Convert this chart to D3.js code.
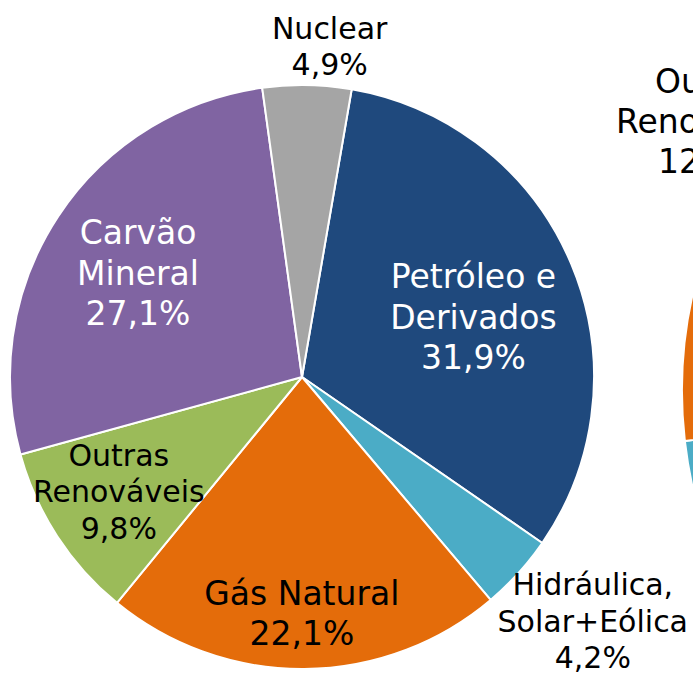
<!DOCTYPE html>
<html>
<head>
<meta charset="utf-8">
<script src="https://cdn.jsdelivr.net/npm/d3@7"></script>
<style>
  body { margin: 0; background: #fff; }
  svg { display: block; }
  .sliceLabel { font-family: "DejaVu Sans", Verdana, sans-serif; text-anchor: middle; }
</style>
</head>
<body>
<div id="chart"></div>
<script>
// categorias (mesma ordem nas duas pizzas, sentido horario)
var categories = ["Petróleo e Derivados", "Hidráulica, Solar+Eólica", "Gás Natural", "Outras Renováveis", "Carvão Mineral", "Nuclear"];
// participação (%) - pizza da esquerda
var leftShares = [31.9, 4.2, 22.1, 9.8, 27.1, 4.9];
// pizza da direita, so aparece a borda no quadro
var rightShares = [45.6, 15.2, 7.4, 12.6, 16.4, 2.8];
// rotulos quebrados em linhas
var leftLabels = [["Petróleo e", "Derivados"], ["Hidráulica,", "Solar+Eólica"], ["Gás Natural"], ["Outras", "Renováveis"], ["Carvão", "Mineral"], ["Nuclear"]];
var rightLabels = [null, null, null, ["Outras", "Renováveis"], null, null];

// estilos
var colors = ["#1f497d", "#4bacc6", "#e46c0a", "#9bbb59", "#8064a2", "#a5a5a5"];
var textColors = ["#ffffff", "#000000", "#000000", "#000000", "#ffffff", "#000000"];

// posicao dos rotulos: [fracao do raio, desvio do angulo (graus), tamanho da fonte]
var leftLabelPos = [[0.622, 3.5, 33], [1.30, -2.2, 30], [0.81, 0.5, 33], [0.74, 1, 30], [0.665, -1, 33], [1.136, 3.8, 30]];
var rightLabelPos = [null, null, null, [1.118, -9.6, 33], null, null];

var svgWidth = 693;
var svgHeight = 673;

var svg = d3.select("#chart").append("svg")
  .attr("width", svgWidth)
  .attr("height", svgHeight);

var fmtPct = d3.formatLocale({ decimal: ",", thousands: ".", grouping: [3], currency: ["R$", ""] }).format(".1f");

function drawPie(shares, labels, labelPos, cx, cy, radius, startDeg) {
  var start = startDeg * Math.PI / 180;
  var pie = d3.pie()
    .sort(null)
    .value(d => d)
    .startAngle(start)
    .endAngle(start + 2 * Math.PI);

  var arc = d3.arc()
    .innerRadius(0)
    .outerRadius(radius);

  var g = svg.append("g")
    .attr("transform", `translate(${cx}, ${cy})`);

  var arcs = pie(shares);

  g.selectAll("path")
    .data(arcs)
    .enter()
    .append("path")
    .attr("d", arc)
    .attr("fill", (d, i) => colors[i])
    .attr("stroke", "#ffffff")
    .attr("stroke-width", 2)
    .attr("stroke-linejoin", "round");

  // rotulos
  arcs.forEach(function(d, i) {
    if (!labels[i]) return;
    var pos = labelPos[i];
    var a = (d.startAngle + d.endAngle) / 2 + pos[1] * Math.PI / 180;
    var x = pos[0] * radius * Math.sin(a);
    var y = -pos[0] * radius * Math.cos(a);
    var size = pos[2];
    var lineH = size * 1.22;
    var lines = labels[i].concat([fmtPct(d.data) + "%"]);
    var n = lines.length;

    var t = g.append("text")
      .attr("class", "sliceLabel")
      .attr("x", x)
      .attr("y", y)
      .attr("fill", textColors[i])
      .style("font-size", size + "px");

    lines.forEach(function(line, k) {
      t.append("tspan")
        .attr("x", x)
        .attr("y", y + (k - (n - 1) / 2) * lineH + size * 0.35)
        .text(line);
    });
  });
}

drawPie(leftShares, leftLabels, leftLabelPos, 302, 377, 292, 9.8);
drawPie(rightShares, rightLabels, rightLabelPos, 1122, 391, 440, 44.6);
</script>
</body>
</html>
